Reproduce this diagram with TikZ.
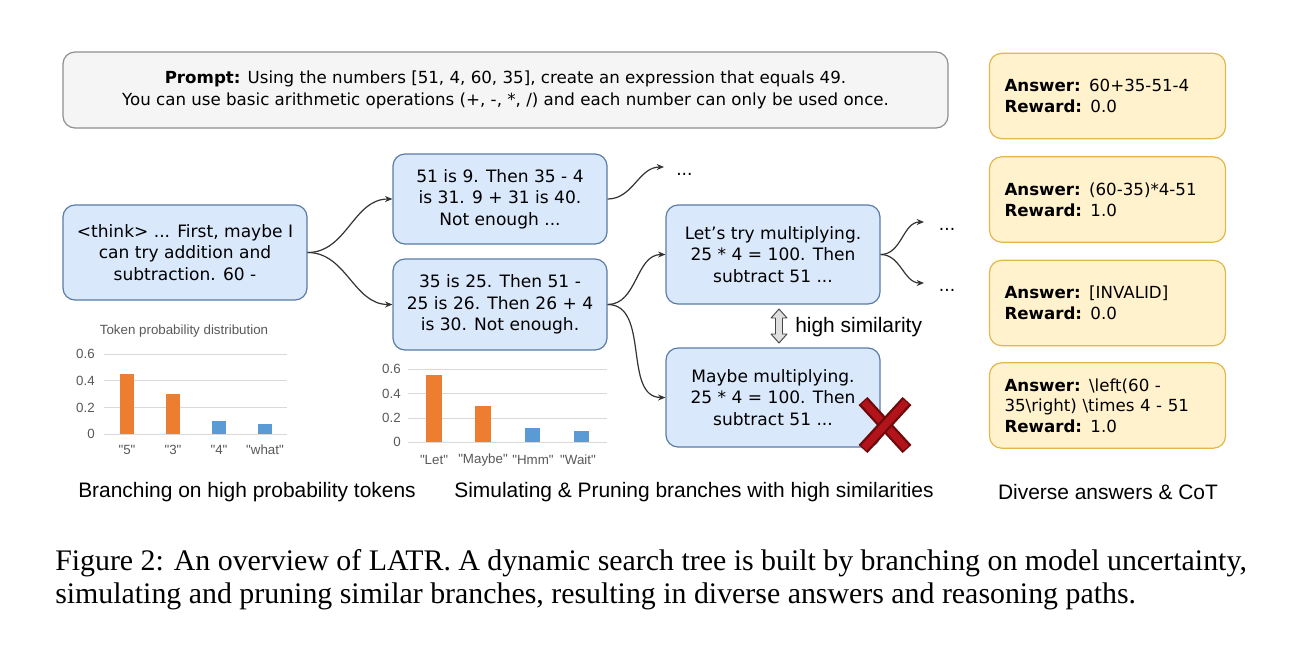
\documentclass[tikz,border=0pt]{standalone}
\usepackage{fontspec}
\setmainfont{DejaVu Sans}
\newfontfamily\arialf{Liberation Sans}
\newfontfamily\timesf{Liberation Serif}
\usetikzlibrary{arrows.meta}
\definecolor{bluefill}{HTML}{DAE8FC}
\definecolor{blueline}{HTML}{5A7BA6}
\definecolor{yelfill}{HTML}{FFF2CC}
\definecolor{yelline}{HTML}{E0B84E}
\definecolor{grayfill}{HTML}{F5F5F5}
\definecolor{grayline}{HTML}{8F8F8F}
\definecolor{barorange}{HTML}{ED7D31}
\definecolor{barblue}{HTML}{5B9BD5}
\definecolor{gridc}{HTML}{D9D9D9}
\definecolor{axtext}{HTML}{595959}
\definecolor{xred}{HTML}{B3131B}
\definecolor{xdark}{HTML}{6E0A0A}
\definecolor{conncol}{HTML}{333333}
\newcommand\boxfont{\fontsize{12.8}{16}\selectfont}
\newcommand\ansfont{\fontsize{12.5}{15.5}\selectfont}
\newcommand\promptfont{\fontsize{12.5}{17}\selectfont}
\newcommand\chartfont{\arialf\fontsize{10}{12}\selectfont}
\newcommand\labfont{\arialf\fontsize{15.7}{18}\selectfont}
\newcommand\capfont{\timesf\fontsize{22.4}{26}\selectfont}
\begin{document}
\begin{tikzpicture}[x=0.75pt,y=-0.75pt,
  bluebox/.style={draw=blueline, fill=bluefill, rounded corners=9pt, line width=0.9pt, align=center, inner sep=0pt, font=\boxfont},
  ansbox/.style={draw=yelline, fill=yelfill, rounded corners=9pt, line width=0.9pt, minimum width=177pt, minimum height=64pt, text width=154.5pt, inner xsep=11.25pt, inner ysep=0pt, align=left, font=\ansfont},
  promptbox/.style={draw=grayline, fill=grayfill, rounded corners=9pt, line width=0.9pt, minimum width=663.75pt, minimum height=57pt, align=center, font=\promptfont},
  conn/.style={draw=conncol, line width=0.9pt, -{Stealth[length=5.5pt,width=4.5pt]}},
  dotsnode/.style={anchor=west, inner xsep=9pt, inner ysep=0pt, text height=12pt, text depth=0pt, font=\boxfont},
  ticklab/.style={anchor=east, inner sep=0pt, font=\chartfont, text=axtext},
  catlab/.style={inner sep=0pt, font=\chartfont, text=axtext},
  grid line/.style={draw=gridc, line width=0.6pt},
  bottomlab/.style={inner sep=0pt, font=\labfont},
  caplab/.style={anchor=west, inner sep=0pt, font=\capfont}]
\useasboundingbox (0,0) rectangle (1305,644);
\fill[white] (0,0) rectangle (1305,644);

% prompt
\node[promptbox] (prompt) at (505.5,90) {\textbf{Prompt:} Using the numbers [51, 4, 60, 35], create an expression that equals 49.\\You can use basic arithmetic operations (+, -, *, /) and each number can only be used once.};

% tree boxes
\node[bluebox, minimum width=183pt, minimum height=71.25pt] (think) at (185,252.5) {<think> ... First, maybe I\\can try addition and\\subtraction. 60 -};
\node[bluebox, minimum width=160.5pt, minimum height=67.5pt] (A) at (500,199) {51 is 9. Then 35 - 4\\is 31. 9 + 31 is 40.\\Not enough ...};
\node[bluebox, minimum width=160.5pt, minimum height=68.25pt] (B) at (500,304.5) {35 is 25. Then 51 -\\25 is 26. Then 26 + 4\\is 30. Not enough.};
\node[bluebox, minimum width=160.5pt, minimum height=74.25pt] (C) at (773,254.5) {Let's try multiplying.\\25 * 4 = 100. Then\\subtract 51 ...};
\node[bluebox, minimum width=160.5pt, minimum height=74.25pt] (D) at (773,397.5) {Maybe multiplying.\\25 * 4 = 100. Then\\subtract 51 ...};

\node[dotsnode] (dA) at (664,167) {...};
\node[dotsnode, inner xsep=11pt] (dC1) at (924,222) {...};
\node[dotsnode, inner xsep=11pt] (dC2) at (924,283) {...};

\draw[conn] (think.east) to[out=0,in=180] (A.west);
\draw[conn] (think.east) to[out=0,in=180] (B.west);
\draw[conn] (A.east) to[out=0,in=180] (dA.west);
\draw[conn] (B.east) to[out=0,in=180] (C.west);
\draw[conn] (B.east) to[out=0,in=180] (D.west);
\draw[conn] (C.east) to[out=0,in=180] (dC1.west);
\draw[conn] (C.east) to[out=0,in=180] (dC2.west);

% similarity double arrow
\draw[fill=gray!25, draw=gray!55!black, line width=0.7pt, line join=round]
  (779,309) -- (787,318) -- (782.5,318) -- (782.5,334) -- (787,334) -- (779,343)
  -- (771,334) -- (775.5,334) -- (775.5,318) -- (771,318) -- cycle;
\node[anchor=west, inner sep=0pt, font=\labfont] (simlab) at (795,327) {high similarity};

% red cross
\draw[xdark, line width=9pt, line cap=butt] (863,401) -- (907,449);
\draw[xred, line width=5.5pt, line cap=butt] (864,402) -- (906,448);
\draw[xdark, line width=9pt, line cap=butt] (907,401) -- (863,449);
\draw[xred, line width=5.5pt, line cap=butt] (906,402) -- (864,448);

% answers
\node[ansbox] (ans1) at (1107.5,96) {\textbf{Answer:} 60+35-51-4\\\textbf{Reward:} 0.0};
\node[ansbox] (ans2) at (1107.5,199.5) {\textbf{Answer:} (60-35)*4-51\\\textbf{Reward:} 1.0};
\node[ansbox] (ans3) at (1107.5,303) {\textbf{Answer:} [INVALID]\\\textbf{Reward:} 0.0};
\node[ansbox] (ans4) at (1107.5,405.5) {\textbf{Answer:} \textbackslash left(60 -\\35\textbackslash right) \textbackslash times 4 - 51\\\textbf{Reward:} 1.0};

% left chart
\node[inner sep=0pt, font=\chartfont, text=axtext] (ltitle) at (184,331) {Token probability distribution};
\foreach \v/\y/\n in {0/434.3/l0, 0.2/407.5/l1, 0.4/380.8/l2, 0.6/354.0/l3} {
  \draw[grid line] (104,\y) -- (287,\y);
  \node[ticklab] (\n) at (95,\y) {\v};
}
\fill[barorange] (120,434.3) rectangle (134,374.1);
\fill[barorange] (166,434.3) rectangle (180,394.2);
\fill[barblue] (212,434.3) rectangle (226,420.9);
\fill[barblue] (257.5,434.3) rectangle (271.5,423.6);
\node[catlab] (lc1) at (127,450) {"5"};
\node[catlab] (lc2) at (173,450) {"3"};
\node[catlab] (lc3) at (219,450) {"4"};
\node[catlab] (lc4) at (265,450) {"what"};

% middle chart
\foreach \v/\y/\n in {0/442.3/m0, 0.2/417.9/m1, 0.4/393.4/m2, 0.6/369.0/m3} {
  \draw[grid line] (408,\y) -- (607,\y);
  \node[ticklab] (\n) at (401,\y) {\v};
}
\fill[barorange] (426,442.3) rectangle (442,375.1);
\fill[barorange] (475,442.3) rectangle (491,405.6);
\fill[barblue] (525,442.3) rectangle (540,427.6);
\fill[barblue] (574,442.3) rectangle (589,430.7);
\node[catlab] (mc1) at (434,460) {"Let"};
\node[catlab] (mc2) at (483,460) {"Maybe"};
\node[catlab] (mc3) at (533,460) {"Hmm"};
\node[catlab] (mc4) at (578,460) {"Wait"};

% bottom labels
\node[bottomlab] (b1) at (247,492) {Branching on high probability tokens};
\node[bottomlab] (b2) at (694,492) {Simulating \& Pruning branches with high similarities};
\node[bottomlab] (b3) at (1108,492) {Diverse answers \& CoT};

% caption
\node[caplab] (cap1) at (55,563) {Figure 2: An overview of LATR. A dynamic search tree is built by branching on model uncertainty,};
\node[caplab] (cap2) at (55,596) {simulating and pruning similar branches, resulting in diverse answers and reasoning paths.};
\end{tikzpicture}
\end{document}
